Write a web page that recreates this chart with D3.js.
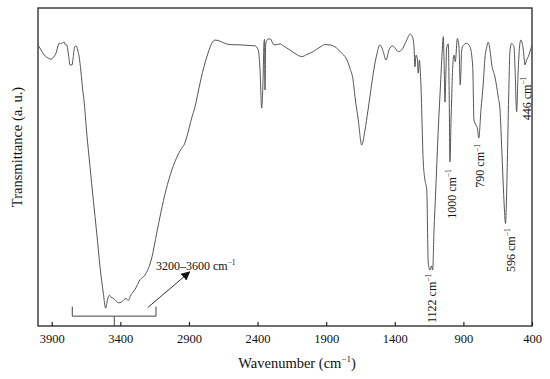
<!DOCTYPE html>
<html lang="en">
<head>
<meta charset="UTF-8">
<title>FTIR spectrum</title>
<script src="https://cdn.jsdelivr.net/npm/d3@7"></script>
<style>
  body { margin: 0; background: #fff; }
  svg text { font-family: "Times New Roman", "Liberation Serif", serif; fill: #111; }
</style>
</head>
<body>
<svg id="chart" width="550" height="379"></svg>
<script>
// spectrum (wavenumber in cm-1, transmittance in arbitrary %)
const wavenumber = [4000,3978,3954,3927,3905,3891,3869,3849,3840,3832,3820,3808,3801,3791,3776,3767,3752,3743,3733,3723,3711,3701,3687,3674,3665,3645,3621,3597,3572,3548,3524,3507,3494,3480,3468,3451,3432,3415,3390,3373,3359,3342,3324,3293,3257,3221,3171,3135,3104,3067,3024,2980,2946,2936,2925,2914,2880,2856,2819,2783,2761,2734,2710,2688,2661,2601,2528,2455,2419,2395,2382,2370,2360,2353,2349,2346,2341,2331,2317,2304,2287,2273,2236,2212,2164,2120,2078,2040,1994,1945,1909,1872,1836,1787,1756,1726,1704,1690,1666,1641,1617,1595,1581,1559,1532,1508,1484,1464,1442,1415,1398,1374,1350,1313,1289,1271,1260,1253,1245,1236,1229,1221,1211,1192,1180,1167,1156,1143,1132,1124,1114,1103,1083,1065,1056,1046,1041,1034,1027,1022,1010,1003,998,990,985,978,968,959,944,932,923,912,903,876,852,832,823,808,797,788,772,755,743,730,719,706,694,670,646,633,621,611,602,593,586,580,570,560,548,538,531,524,512,502,495,482,471,463,451,440,427,415,400];
const transmittance = [88.4,86.8,85.2,84.3,83.9,84.3,85.8,88.7,89.0,88.7,89.1,89.3,88.4,88.4,84.7,82.1,82.1,84.7,87.8,88.1,86.8,84.9,79.9,74.2,71.1,60.7,50.1,39.6,29.2,18.6,10.3,5.6,8.2,9.7,9.1,8.7,7.9,7.3,7.6,8.3,8.7,8.0,9.7,11.5,14.5,16.0,21.4,29.2,35.8,42.8,49.1,53.8,56.4,56.9,58.2,59.7,65.4,68.9,76.4,82.7,85.8,88.9,89.9,89.8,89.3,88.5,88.4,88.2,88.1,86.8,80.5,68.5,77.4,89.3,90.1,74.2,88.4,89.9,90.3,90.2,88.7,88.4,88.7,88.1,86.8,85.5,84.7,85.4,86.3,87.7,88.5,88.4,87.8,85.8,84.3,81.0,77.4,72.1,64.8,56.9,61.6,67.9,72.1,78.9,85.2,88.4,86.3,83.6,86.8,88.1,87.4,86.3,86.8,89.9,91.8,90.9,87.8,81.5,85.2,84.2,79.5,83.6,77.4,51.3,45.9,42.8,19.8,17.6,18.9,17.6,30.2,41.2,61.9,77.4,85.2,91.0,83.6,70.4,80.5,87.4,88.7,71.1,51.6,64.8,72.0,81.4,85.2,83.1,90.4,87.7,75.8,86.8,88.1,88.9,87.8,81.5,64.8,63.2,61.9,59.1,67.9,76.4,84.3,87.7,89.3,86.8,82.4,78.3,72.0,67.9,56.3,45.9,37.4,32.2,39.6,51.3,72.0,86.8,88.9,88.4,87.8,81.5,67.4,78.9,85.2,89.9,88.9,86.8,82.1,83.6,84.7,86.2,88.4];

const xTicks = [3900, 3400, 2900, 2400, 1900, 1400, 900, 400];

// peak labels: position on the axis (wavenumber) and the transmittance where the label's top sits
const peakNames = ["1122", "1000", "790", "596", "446"];
const peakX = [1129, 983, 776, 555, 440];
const peakTop = [16.4, 49.3, 57.2, 30.7, 78.4];

// bracket for the broad O-H band
const bandRange = [3750, 3140];
const bandMid = 3444;
const bandLabel = "3200–3600";

const svg = d3.select("#chart");
const margin = { top: 8, right: 18, bottom: 53, left: 38 };
const W = 550, H = 379;

const x = d3.scaleLinear().domain([4000, 400]).range([margin.left, W - margin.right]);
const y = d3.scaleLinear().domain([0, 100]).range([H - margin.bottom, margin.top]);

// frame
svg.append("rect")
  .attr("x", margin.left).attr("y", margin.top)
  .attr("width", W - margin.left - margin.right)
  .attr("height", H - margin.top - margin.bottom)
  .attr("fill", "none").attr("stroke", "#222").attr("stroke-width", 1.3);

// bottom axis, ticks pointing inside
const xAxis = svg.append("g")
  .attr("transform", `translate(0,${H - margin.bottom})`)
  .call(d3.axisBottom(x).tickValues(xTicks).tickFormat(d3.format("d"))
    .tickSizeInner(-4).tickSizeOuter(0).tickPadding(8));
xAxis.select(".domain").remove();
xAxis.selectAll("line").attr("stroke", "#222").attr("stroke-width", 1.2);
xAxis.selectAll("text")
  .attr("font-size", "12.5px")
  .attr("font-family", "'Times New Roman', 'Liberation Serif', serif")
  .attr("fill", "#111");

// spectrum
const pts = wavenumber.map((w, i) => [w, transmittance[i]]);
svg.append("path")
  .datum(pts)
  .attr("fill", "none")
  .attr("stroke", "#555")
  .attr("stroke-width", 1)
  .attr("d", d3.line().x(d => x(d[0])).y(d => y(d[1])).curve(d3.curveMonotoneX));

// "cm-1" with a raised exponent
function cmText(sel, before, after, size) {
  sel.append("tspan").text(before + "cm");
  sel.append("tspan").attr("dy", -size * 0.38).attr("font-size", size * 0.62).text("−1");
  sel.append("tspan").attr("dy", size * 0.38).text(after);
}

const xt = svg.append("text")
  .attr("x", 297).attr("y", 368)
  .attr("text-anchor", "middle")
  .attr("font-size", 14.5);
cmText(xt, "Wavenumber (", ")", 14.5);

svg.append("text")
  .attr("transform", "translate(22,147) rotate(-90)")
  .attr("text-anchor", "middle")
  .attr("font-size", 14.5)
  .text("Transmittance (a. u.)");

// peak labels, rotated
peakNames.forEach((name, i) => {
  const t = svg.append("text")
    .attr("transform", `translate(${x(peakX[i]) + 4},${y(peakTop[i])}) rotate(-90)`)
    .attr("text-anchor", "end")
    .attr("font-size", 12);
  cmText(t, name + " ", "", 12);
});

// bracket under the O-H band
const bx0 = x(bandRange[0]), bx1 = x(bandRange[1]), bm = x(bandMid);
const bTop = y(6.1), bLine = y(3.1), bBot = y(0);
svg.append("path")
  .attr("fill", "none").attr("stroke", "#444").attr("stroke-width", 1)
  .attr("d", `M${bx0},${bTop} L${bx0},${bLine} L${bx1},${bLine} L${bx1},${bTop} M${bm},${bLine} L${bm},${bBot}`);

// arrow to the band label
svg.append("defs").append("marker")
  .attr("id", "head").attr("viewBox", "0 0 10 10")
  .attr("refX", 9).attr("refY", 5)
  .attr("markerWidth", 9).attr("markerHeight", 9)
  .attr("orient", "auto-start-reverse")
  .append("path").attr("d", "M0,0 L10,5 L0,10 z").attr("fill", "#111");

svg.append("line")
  .attr("x1", x(3200)).attr("y1", y(5.8))
  .attr("x2", x(2895)).attr("y2", y(17))
  .attr("stroke", "#333").attr("stroke-width", 1)
  .attr("marker-end", "url(#head)");

const bl = svg.append("text")
  .attr("x", x(3140)).attr("y", 270)
  .attr("font-size", 12);
cmText(bl, bandLabel + " ", "", 12);
</script>
</body>
</html>
